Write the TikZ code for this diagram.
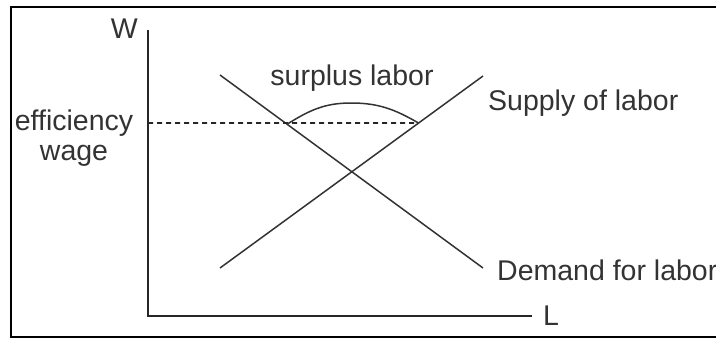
\documentclass[tikz,border=0pt]{standalone}
\usepackage{fontspec}
\setmainfont{Liberation Sans}
\usetikzlibrary{calc}

\begin{document}
\begin{tikzpicture}[
  x=1pt,y=-1pt,
  every node/.style={font=\fontsize{28.5}{30}\selectfont,text=black!80,inner sep=0pt},
  axis/.style={line width=2pt,black!85},
  curve/.style={line width=1.5pt,black!80},
  wageline/.style={line width=1.6pt,black!85,dash pattern=on 5pt off 4pt}
 ]
  \useasboundingbox (0,0) rectangle (716,338);
  \clip (0,0) rectangle (716,338);
  % frame, open on the right
  \draw[line width=2.6pt] (11,7) rectangle (730,337);

  % axes
  \coordinate (o) at (148,316);
  \coordinate (wtop) at (148,30);
  \coordinate (lend) at (532,316);
  \draw[axis] (wtop) -- (o) -- (lend);
  \node[anchor=east] (w) at (138,29) {W};
  \node[anchor=west] (l) at (543,316) {L};

  % demand and supply
  \coordinate (dS) at (220,75);
  \coordinate (dE) at (483,268);
  \coordinate (sS) at (220,268);
  \coordinate (sE) at (483,76);
  \draw[curve] (dS) -- (dE);
  \draw[curve] (sS) -- (sE);
  \node[anchor=base west] (dem) at (497,280) {Demand for labor};
  \node[anchor=base west] (sup) at (488,110) {Supply of labor};

  % efficiency wage
  \coordinate (ew) at (148,123);
  \coordinate (eqD) at ($(dS)!0.255!(dE)$);
  \coordinate (eqS) at ($(sS)!0.755!(sE)$);
  \coordinate (top) at (351,103);
  \draw[wageline] (ew) -- (eqS);
  \node[align=center,font=\fontsize{28.5}{30}\selectfont,anchor=base] (eff)
    at (74,160) {efficiency\\wage};
  \draw[curve] (eqD) to[out=32,in=180] (top) to[out=0,in=150] (eqS);
  \node[anchor=base] (sur) at (352,85) {surplus labor};
\end{tikzpicture}
\end{document}
